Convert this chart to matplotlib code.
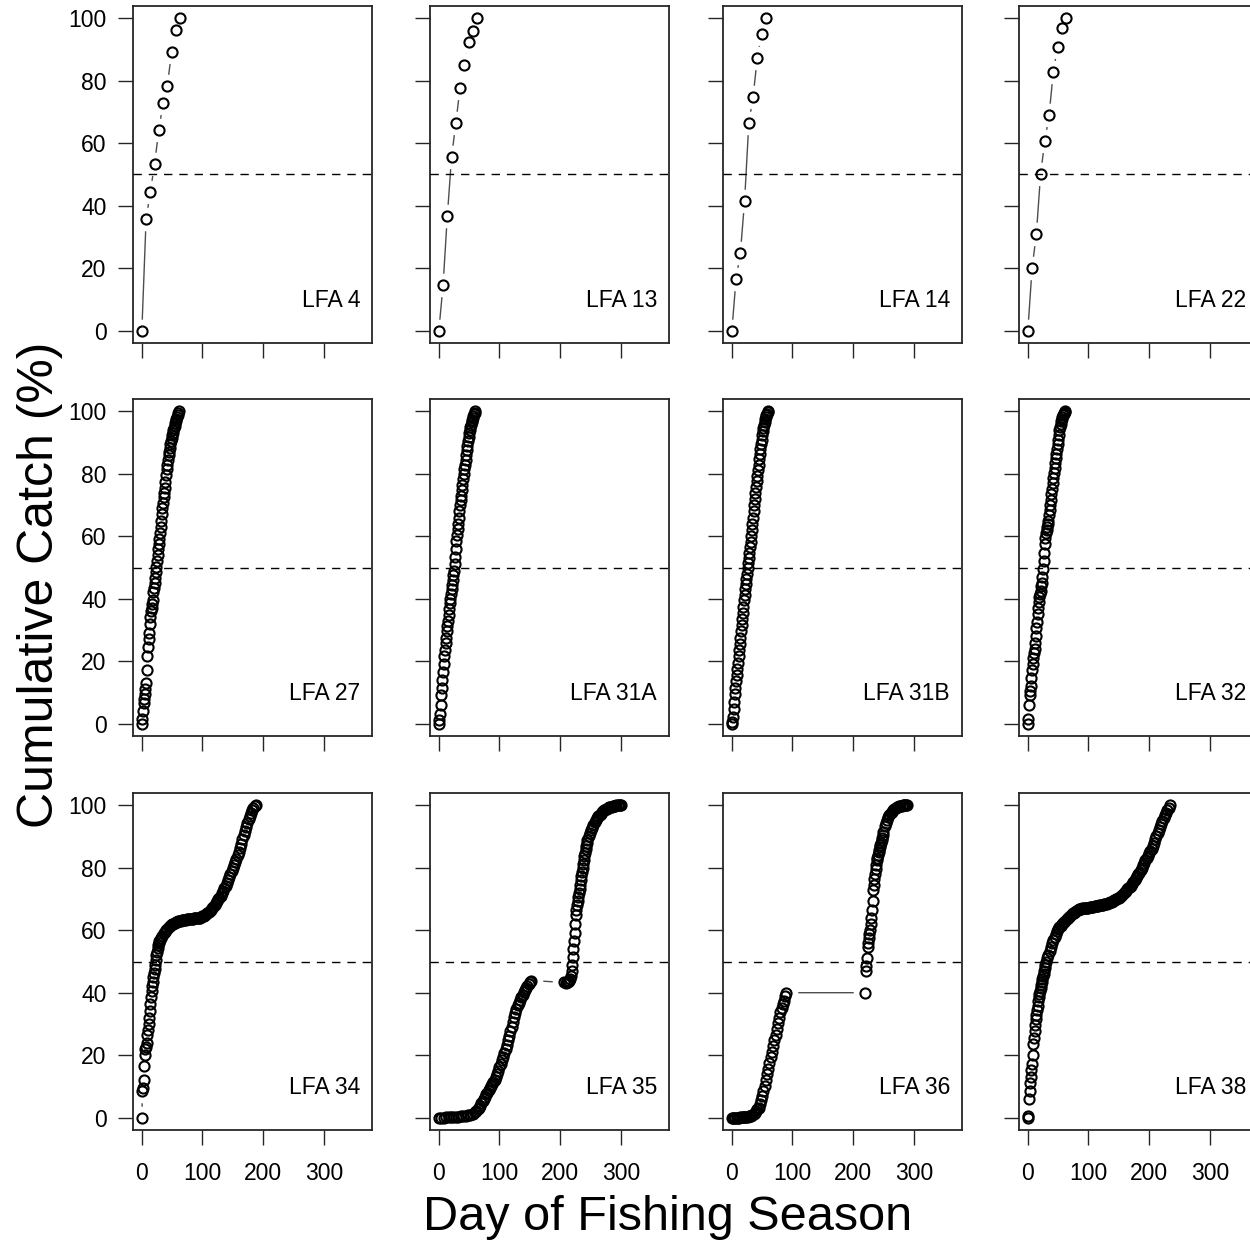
import numpy as np
import matplotlib
matplotlib.use("Agg")
import matplotlib.pyplot as plt

plt.rcParams["font.family"] = ["Liberation Sans", "DejaVu Sans"]

# ---- data (day of season, cumulative catch %) ----
LABELS = ["LFA 4", "LFA 13", "LFA 14", "LFA 22",
          "LFA 27", "LFA 31A", "LFA 31B", "LFA 32",
          "LFA 34", "LFA 35", "LFA 36", "LFA 38"]

# top row: weekly landings
weekly = [0, 7, 14, 21, 28, 35, 42, 49, 56, 63]
lfa4_x = weekly
lfa4_y = [0, 35.7, 44.4, 53.5, 64.2, 73, 78.5, 89.2, 96.3, 100]
lfa13_x = weekly
lfa13_y = [0, 14.7, 36.8, 55.6, 66.5, 77.8, 85.1, 92.6, 96.1, 100]
lfa14_x = weekly[:9]
lfa14_y = [0, 16.6, 24.7, 41.5, 66.5, 74.9, 87.4, 95.1, 100]
lfa22_x = weekly
lfa22_y = [0, 20.1, 30.8, 50.1, 60.8, 69, 82.9, 91, 96.8, 100]

# middle row: daily landings
lfa27_x = list(range(0, 62))
lfa27_y = [0, 1.5, 4, 6.5, 8, 9.5, 11, 13, 17, 21.5, 24.5, 27, 29, 32, 34,
           36, 37, 38.3, 39.5, 42, 43.5, 45, 46.5, 48.5, 50.3, 52, 54, 56,
           57.5, 59, 61, 63, 65, 67, 69, 70.6, 72.5, 74, 75.5, 77.5, 79.5,
           81.5, 83, 84.5, 86, 87, 88.3, 89.5, 90.5, 91.5, 92.5, 93.2, 94,
           94.7, 95.5, 96.2, 97, 97.6, 98.3, 98.9, 99.5, 100]
lfa31a_x = list(range(0, 61))
lfa31a_y = [0, 1, 3, 6, 9, 11.5, 14, 16.5, 19, 21.5, 23.7, 25.7, 27.5, 29.5,
            31.3, 33, 34.8, 36.7, 38.5, 40, 41.5, 43, 44.5, 46, 47.5, 49, 51,
            53.5, 56, 58.5, 60.5, 62.3, 64, 66, 68, 70, 71.5, 73, 74.7, 76.5,
            78.3, 80, 81.5, 83, 84.5, 86, 87.5, 89, 90.5, 91.7, 93, 94, 95,
            95.8, 96.6, 97.3, 98, 98.6, 99.2, 99.6, 100]
lfa31b_x = list(range(0, 61))
lfa31b_y = [0, 0.5, 2, 4.5, 7, 9.5, 11.5, 13.5, 15.5, 17.5, 19.5, 21.5, 23.5,
            25.5, 27.5, 29.5, 31.5, 33.5, 35.5, 37.5, 39.5, 41.3, 43, 44.7,
            46.3, 48, 49.7, 51.3, 53, 54.7, 56.5, 58.3, 60.2, 62, 64, 66, 68,
            70, 72, 74, 75.8, 77.6, 79.4, 81.2, 83, 84.7, 86.3, 88, 89.5, 91,
            92.4, 93.6, 94.8, 95.8, 96.7, 97.5, 98.2, 98.8, 99.3, 99.7, 100]
lfa32_x = list(range(0, 63))
lfa32_y = [0, 1.5, 6, 9, 10.5, 12, 14.5, 17, 19, 21, 22.5, 24, 25.7, 28, 30.5,
           32.5, 35, 37, 39, 40.5, 41.5, 42.5, 44, 45, 47, 49.5, 52, 54.5,
           57.5, 59.5, 61, 62, 63, 64, 65, 66.8, 68.5, 70, 71.7, 73.5, 75.3,
           77, 78.7, 80.3, 82, 83.5, 85, 86.5, 88, 89.5, 91, 92.5, 94, 95, 96,
           96.8, 97.5, 98.2, 98.8, 99.2, 99.6, 99.8, 100]

# bottom row: long seasons
lfa34_x = list(range(0, 31)) + list(range(32, 189, 2))
lfa34_y = [0, 8.5, 9.5, 12, 16.5, 20, 22, 22.5, 24, 26.5, 28, 30, 32, 34,
           36.5, 38.5, 40.5, 42, 43.5, 45, 46.3, 47.7, 49, 50.5, 52, 53.2,
           54.4, 55.2, 55.9, 56.5, 57,
           57.6, 58.3, 59, 59.6, 60.1, 60.5, 60.9, 61.3, 61.6, 61.9, 62.1,
           62.3, 62.5, 62.7, 62.9, 63, 63.1, 63.2, 63.3, 63.3, 63.4, 63.5,
           63.5, 63.5, 63.6, 63.7, 63.7, 63.8, 63.9, 63.9, 64, 64, 64.1, 64.3,
           64.5, 64.7, 64.9, 65.1, 65.4, 65.8, 66.2, 66.6, 67.1, 67.6, 68.1,
           68.7, 69.3, 69.9, 70.4, 71.1, 71.9, 72.7, 73.5, 74.3, 75.1, 76, 77,
           78, 79, 80, 81, 82, 83, 84, 85.2, 86.5, 87.8, 89.1, 90.4, 91.7, 93,
           94.3, 95.6, 96.7, 97.7, 98.6, 99.2, 99.7, 100]

lfa35_x = (list(range(0, 61, 4)) + list(range(62, 153, 2))
           + [207, 209, 211, 213, 215] + list(range(217, 246))
           + list(range(247, 300, 2)) + [300])
lfa35_y = [0, 0, 0, 0.1, 0.1, 0.2, 0.2, 0.3, 0.3, 0.4, 0.5, 0.6, 0.7, 0.9,
           1.2, 1.8,
           2.2, 2.7, 3.2, 3.8, 4.5, 5.2, 6, 6.7, 7.4, 8, 8.7, 9.3, 10, 10.6,
           11.3, 12, 12.9, 13.9, 15, 16.1, 17.2, 18.3, 19.5, 20.7, 22, 23.3,
           24.7, 26.1, 27.6, 29.1, 30.6, 32.2, 33.6, 34.8, 35.9, 36.8, 37.7,
           38.5, 39.3, 40.1, 40.9, 41.6, 42.2, 42.9, 43.4, 43.9,
           43.3, 43.2, 43.3, 43.5, 43.8,
           44.5, 45.5, 47, 49, 51.5, 54, 56.5, 59, 62, 65, 66.5, 68, 69.5,
           70.8, 72, 73.3, 74.6, 76, 77.3, 78.6, 79.9, 81.2, 82.5, 83.7, 84.9,
           86, 87, 88, 88.8,
           90.2, 91.2, 92, 92.9, 93.8, 94.6, 95.3, 95.9, 96.5, 97, 97.4, 97.8,
           98.2, 98.5, 98.8, 99, 99.2, 99.4, 99.5, 99.6, 99.7, 99.8, 99.9,
           100, 100, 100, 100, 100]

lfa36_x = (list(range(0, 89, 2)) + [89] + list(range(220, 251))
           + list(range(252, 289, 2)) + [289])
lfa36_y = [0, 0, 0, 0, 0, 0, 0, 0.1, 0.1, 0.1, 0.2, 0.2, 0.3, 0.3, 0.4, 0.5,
           0.6, 0.8, 1.1, 1.5, 2, 2.6, 3.2, 4.3, 5.6, 7, 8.5, 10.2, 12, 13.8,
           15.6, 17.4, 19.3, 21.1, 22.9, 24.7, 26.5, 28.3, 30.2, 32, 33.8,
           35.2, 36.4, 37.4, 38.8, 40,
           40, 47, 48.6, 51, 54.5, 56, 57.5, 58.8, 60, 62, 64, 66.5, 69.5,
           72.8, 74.5, 76.3, 78.1, 79.5, 81, 82.4, 83.2, 84, 85, 85.8, 86.6,
           87.3, 88, 88.8, 89.7, 90.6, 91.5,
           93.3, 94.5, 95.4, 96.2, 97, 97.5, 98, 98.4, 98.8, 99.2, 99.5, 99.6,
           99.7, 99.8, 99.9, 100, 100, 100, 100, 100]

lfa38_x = list(range(0, 31)) + list(range(32, 235, 2))
lfa38_y = [0, 0.5, 6, 8.5, 11, 13, 15.2, 17, 20, 23.5, 25.5, 27.8, 29.5, 31.5,
           33, 34.5, 35.8, 37.2, 38.5, 39.5, 40.5, 41.5, 42.5, 43.5, 44.3,
           45.2, 46.1, 47, 48, 49, 49.7,
           51, 52.2, 53.5, 54.8, 55.8, 56.8, 57.8, 58.8, 59.8, 60.4, 61, 61.5,
           62, 62.4, 62.8, 63.1, 63.5, 63.9, 64.3, 64.7, 65.1, 65.4, 65.7, 66,
           66.3, 66.5, 66.7, 66.8, 66.9, 67, 67.1, 67.2, 67.2, 67.3, 67.3,
           67.4, 67.4, 67.5, 67.6, 67.7, 67.8, 67.8, 67.9, 68, 68.1, 68.2,
           68.2, 68.3, 68.4, 68.5, 68.6, 68.8, 69, 69.2, 69.4, 69.6, 69.8, 70,
           70.2, 70.4, 70.6, 71, 71.4, 71.8, 72.2, 72.7, 73.1, 73.5, 73.9,
           74.3, 74.9, 75.5, 76.1, 76.7, 77.3, 77.9, 78.5, 79.3, 80.1, 80.9,
           81.7, 82.4, 83.1, 83.9, 84.7, 85.5, 86.2, 87.1, 88.1, 89.1, 90.1,
           91.1, 92, 93, 94, 95, 96, 96.9, 97.7, 98.5, 99.3, 100]

SERIES_X = [lfa4_x, lfa13_x, lfa14_x, lfa22_x, lfa27_x, lfa31a_x, lfa31b_x,
            lfa32_x, lfa34_x, lfa35_x, lfa36_x, lfa38_x]
SERIES_Y = [lfa4_y, lfa13_y, lfa14_y, lfa22_y, lfa27_y, lfa31a_y, lfa31b_y,
            lfa32_y, lfa34_y, lfa35_y, lfa36_y, lfa38_y]

X_TICKS = [0, 100, 200, 300]
Y_TICKS = [0, 20, 40, 60, 80, 100]

W, H = 1250, 1245
COL_LEFT = [133, 430, 723, 1019]
ROW_TOP = [6, 399, 793]
BOX_W, BOX_H = 239, 337

fig = plt.figure(figsize=(W / 100, H / 100), dpi=100)

for i, (label, xs, ys) in enumerate(zip(LABELS, SERIES_X, SERIES_Y)):
    r, c = divmod(i, 4)
    left = COL_LEFT[c] / W
    bottom = 1 - (ROW_TOP[r] + BOX_H) / H
    ax = fig.add_axes([left, bottom, BOX_W / W, BOX_H / H])
    xs = np.asarray(xs, float)
    ys = np.asarray(ys, float)

    # R type="b": line with gaps around each point
    ax.plot(xs, ys, color="0.3", lw=1.0, zorder=1)
    ax.plot(xs, ys, "o", ms=17, mfc="white", mec="none", zorder=2)
    ax.plot(xs, ys, "o", ms=7.3, mfc="none", mec="black", mew=1.5, zorder=3)
    ax.axhline(50, color="black", lw=1.0, ls=(0, (6, 5)), zorder=4)

    ax.set_xlim(-14.6, 379.6)
    ax.set_ylim(-4, 104)
    ax.set_xticks(X_TICKS)
    ax.set_yticks(Y_TICKS)
    ax.tick_params(direction="out", length=11, width=1.0, color="0.15",
                   labelsize=16.5, labelcolor="black")
    ax.tick_params(axis="y", pad=8)
    ax.tick_params(axis="x", pad=12)
    if c != 0:
        ax.set_yticklabels([])
    if r != 2:
        ax.set_xticklabels([])
    for s in ax.spines.values():
        s.set_linewidth(1.3)
        s.set_color("0.15")

    ax.text(0.95, 0.127, label, transform=ax.transAxes, ha="right",
            va="center", fontsize=16.5)

fig.text(668 / W, 1 - 1218 / H, "Day of Fishing Season", ha="center",
         va="center", fontsize=35)
fig.text(40 / W, 1 - 585 / H, "Cumulative Catch (%)", ha="center",
         va="center", rotation=90, fontsize=36)

fig.savefig("out.png", dpi=100)
